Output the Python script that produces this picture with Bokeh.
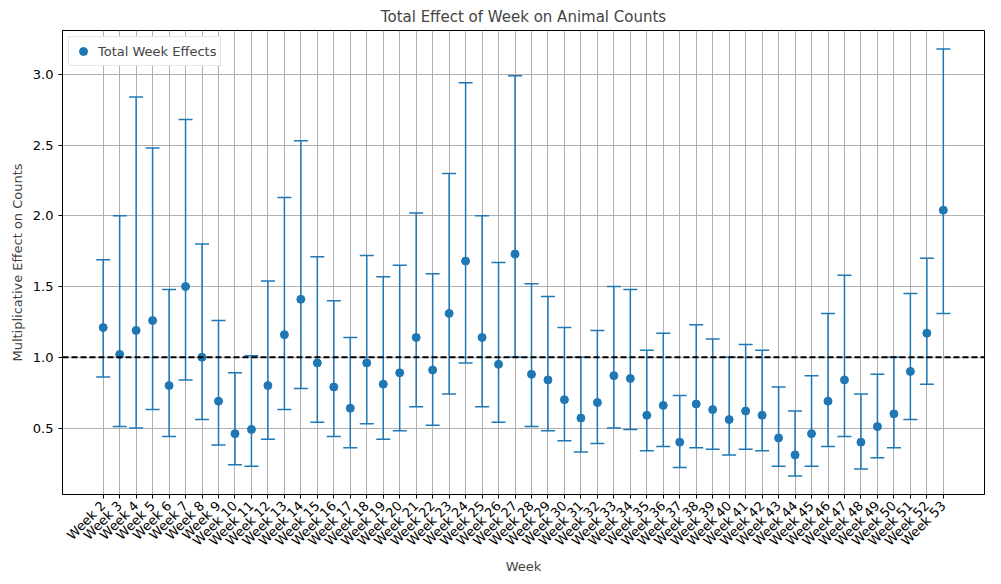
import math
from bokeh.plotting import figure
from bokeh.models import Whisker, ColumnDataSource, Span, FixedTicker, Range1d, Legend, LegendItem
from bokeh.embed import file_html
from bokeh.resources import INLINE

weeks = list(range(2, 54))
labels = [f"Week {w}" for w in weeks]
effect = [1.21,1.02,1.19,1.26,0.80,1.50,1.00,0.69,0.46,0.49,0.80,1.16,1.41,0.96,0.79,0.64,0.96,0.81,0.89,1.14,
          0.91,1.31,1.68,1.14,0.95,1.73,0.88,0.84,0.70,0.57,0.68,0.87,0.85,0.59,0.66,0.40,0.67,0.63,0.56,0.62,
          0.59,0.43,0.31,0.46,0.69,0.84,0.40,0.51,0.60,0.90,1.17,2.04]
lower = [0.86,0.51,0.50,0.63,0.44,0.84,0.56,0.38,0.24,0.23,0.42,0.63,0.78,0.54,0.44,0.36,0.53,0.42,0.48,0.65,
         0.52,0.74,0.96,0.65,0.54,1.00,0.51,0.48,0.41,0.33,0.39,0.50,0.49,0.34,0.37,0.22,0.36,0.35,0.31,0.35,
         0.34,0.23,0.16,0.23,0.37,0.44,0.21,0.29,0.36,0.56,0.81,1.31]
upper = [1.69,2.00,2.84,2.48,1.48,2.68,1.80,1.26,0.89,1.01,1.54,2.13,2.53,1.71,1.40,1.14,1.72,1.57,1.65,2.02,
         1.59,2.30,2.94,2.00,1.67,2.99,1.52,1.43,1.21,1.00,1.19,1.50,1.48,1.05,1.17,0.73,1.23,1.13,1.00,1.09,
         1.05,0.79,0.62,0.87,1.31,1.58,0.74,0.88,1.00,1.45,1.70,3.18]

blue = "#1f77b4"
src = ColumnDataSource(dict(x=weeks, y=effect, lo=lower, hi=upper))

p = figure(width=993, height=576, output_backend="svg", toolbar_location=None,
           x_range=Range1d(-0.47, 55.5), y_range=Range1d(0.03, 3.31),
           title="Total Effect of Week on Animal Counts",
           min_border_left=62, min_border_right=9, min_border_top=30, min_border_bottom=10)
p.title.align = "center"
p.title.text_font = "DejaVu Sans"
p.title.text_font_size = "15px"
p.title.text_font_style = "normal"

w = Whisker(source=src, base="x", lower="lo", upper="hi", line_color=blue, line_width=1.5)
w.upper_head.line_color = blue; w.lower_head.line_color = blue
w.upper_head.size = 14; w.lower_head.size = 14
w.upper_head.line_width = 1.5; w.lower_head.line_width = 1.5
p.add_layout(w)
r = p.scatter("x", "y", source=src, size=8, color=blue)

p.add_layout(Span(location=1.0, dimension="width", line_color="black", line_width=2, line_dash="6 3"))

p.xaxis.ticker = FixedTicker(ticks=weeks)
p.xaxis.major_label_overrides = {w_: l for w_, l in zip(weeks, labels)}
p.xaxis.major_label_orientation = math.pi / 4
p.yaxis.ticker = FixedTicker(ticks=[0.5, 1.0, 1.5, 2.0, 2.5, 3.0])
p.yaxis.major_label_overrides = {0.5: "0.5", 1.0: "1.0", 1.5: "1.5", 2.0: "2.0", 2.5: "2.5", 3.0: "3.0"}
p.xaxis.axis_label = "Week"
p.yaxis.axis_label = "Multiplicative Effect on Counts"
for ax in (p.xaxis[0], p.yaxis[0]):
    ax.axis_label_text_font = "DejaVu Sans"
    ax.axis_label_text_font_size = "13px"
    ax.axis_label_text_font_style = "normal"
    ax.major_label_text_font = "DejaVu Sans"
    ax.major_label_text_font_size = "13px"
    ax.major_label_text_color = "black"
    ax.minor_tick_line_color = None
    ax.axis_line_color = "black"
    ax.major_tick_out = 4
    ax.major_tick_in = 0
p.xaxis.axis_label_standoff = 2
p.grid.grid_line_color = "#b0b0b0"
p.grid.grid_line_alpha = 1.0
p.outline_line_color = "black"

legend = Legend(items=[LegendItem(label="Total Week Effects", renderers=[r])], location="top_left")
legend.label_text_font = "DejaVu Sans"
legend.label_text_font_size = "13px"
legend.border_line_color = "#cccccc"
legend.margin = 6
legend.padding = 4
legend.spacing = 0
p.add_layout(legend)

open("out.html", "w").write(file_html(p, INLINE))
